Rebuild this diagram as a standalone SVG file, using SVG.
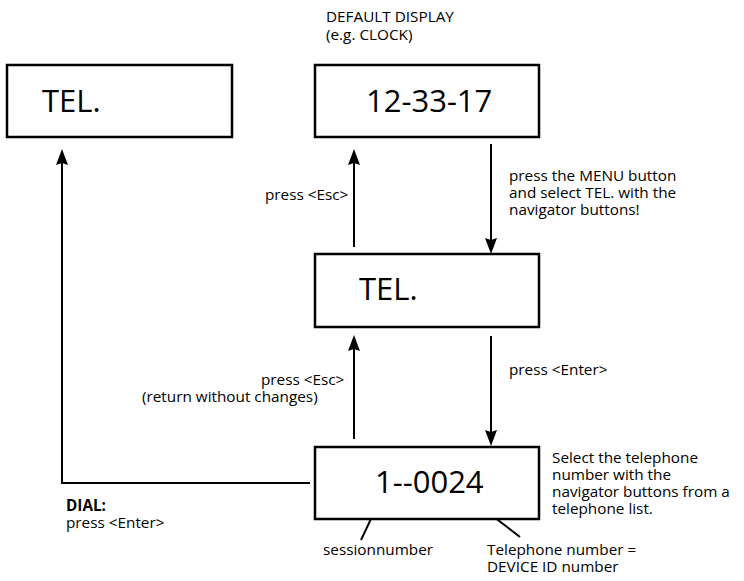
<svg xmlns="http://www.w3.org/2000/svg" width="744" height="581" viewBox="0 0 744 581">
<defs>
<style>
.box{fill:#fff;stroke:#000;stroke-width:2.5}
.big{font-family:"Open Sans","Noto Sans",sans-serif;font-size:31px;fill:#000}
.sm{font-family:"Open Sans","Noto Sans",sans-serif;font-size:15.3px;fill:#000}
.b{font-weight:bold}
.ln{fill:none;stroke:#000;stroke-width:2}
.ah{fill:#000}
</style>
</defs>
<rect width="744" height="581" fill="#fff"/>
<g id="connectors">
<path class="ln" d="M354,247 V160"/>
<path class="ln" d="M491,144 V244"/>
<path class="ln" d="M354,439 V346"/>
<path class="ln" d="M491,336 V436"/>
<path class="ln" d="M310,483 H62 V160"/>
<path class="ah" d="M354,149 l-6,16 l6,-2 l6,2 Z"/>
<path class="ah" d="M491,254 l-6,-16 l6,2 l6,-2 Z"/>
<path class="ah" d="M354,335 l-6,16 l6,-2 l6,2 Z"/>
<path class="ah" d="M491,446 l-6,-16 l6,2 l6,-2 Z"/>
<path class="ah" d="M62,149 l-6,16 l6,-2 l6,2 Z"/>
<path class="ln" d="M379,502 L361,540"/>
<path class="ln" d="M468,497 L520,537"/>
</g>
<g id="tel-left">
<rect class="box" x="7" y="65" width="225" height="72"/>
<text class="big" x="42" y="112">TEL.</text>
</g>
<g id="clock">
<rect class="box" x="315" y="65" width="224" height="72"/>
<text class="big" x="366" y="112">12-33-17</text>
<text class="sm" x="326" y="22">DEFAULT DISPLAY</text>
<text class="sm" x="326" y="40">(e.g. CLOCK)</text>
</g>
<g id="tel-mid">
<rect class="box" x="315" y="254" width="224" height="73"/>
<text class="big" x="359" y="300">TEL.</text>
</g>
<g id="session">
<rect class="box" x="315" y="447" width="224" height="72"/>
<text class="big" x="375" y="493">1--0024</text>
</g>
<g id="labels">
<text class="sm" x="509" y="181">press the MENU button</text>
<text class="sm" x="509" y="198">and select TEL. with the</text>
<text class="sm" x="509" y="215">navigator buttons!</text>
<text class="sm" x="265" y="200">press &lt;Esc&gt;</text>
<text class="sm" x="509" y="375">press &lt;Enter&gt;</text>
<text class="sm" x="261" y="385">press &lt;Esc&gt;</text>
<text class="sm" x="142" y="402">(return without changes)</text>
<text class="sm b" x="66" y="511">DIAL:</text>
<text class="sm" x="66" y="528">press &lt;Enter&gt;</text>
<text class="sm" x="552" y="463">Select the telephone</text>
<text class="sm" x="552" y="480">number with the</text>
<text class="sm" x="552" y="497">navigator buttons from a</text>
<text class="sm" x="552" y="514">telephone list.</text>
<text class="sm" x="323" y="555">sessionnumber</text>
<text class="sm" x="487" y="555">Telephone number =</text>
<text class="sm" x="487" y="572">DEVICE ID number</text>
</g>
</svg>
